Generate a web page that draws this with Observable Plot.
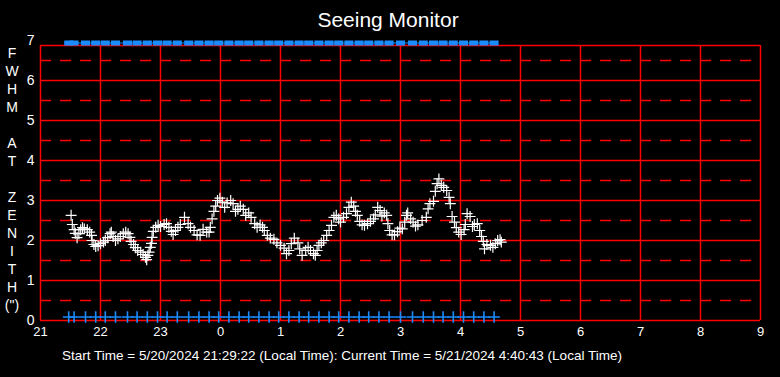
<!DOCTYPE html>
<html>
<head>
<meta charset="utf-8">
<script src="https://cdn.jsdelivr.net/npm/d3@7"></script>
<script src="https://cdn.jsdelivr.net/npm/@observablehq/plot@0.6"></script>
<style>
  html, body { margin: 0; padding: 0; background: #000; }
  #wrap { position: relative; width: 780px; height: 377px; background: #000; overflow: hidden;
          font-family: "Liberation Sans", Arial, sans-serif; color: #fff; }
  #title { position: absolute; left: 0; top: 8px; width: 776px; text-align: center;
           font-size: 21px; line-height: 24px; }
  #ylab { position: absolute; left: 1px; top: 44px; width: 22px; text-align: center;
          font-size: 14px; line-height: 18px; }
  #chart { position: absolute; left: 0; top: 0; }
  #foot { position: absolute; left: 0; top: 342px; }
</style>
</head>
<body>
<div id="wrap">
  <div id="chart"></div>
  <div id="title"></div>
  <div id="ylab"></div>
  <svg id="foot" width="780" height="30"></svg>
</div>
<script>
// ---- data ----
const titleText = "Seeing Monitor";
const yLabelLines = ["F","W","H","M","","A","T","","Z","E","N","I","T","H","(\")"];
const footerText = "Start Time = 5/20/2024 21:29:22 (Local Time): Current Time = 5/21/2024 4:40:43 (Local Time)";

// hours since midnight of 5/20 (values past 24 are the next day)
const seeingTime = [
  21.51,21.53,21.56,21.58,21.61,21.64,21.67,21.70,21.73,21.78,21.82,21.85,21.86,21.89,21.92,21.96,
  22.00,22.05,22.08,22.12,22.16,22.18,22.21,22.25,22.29,22.33,22.38,22.42,22.46,22.49,22.51,22.55,
  22.58,22.62,22.67,22.71,22.75,22.77,22.79,22.81,22.83,22.85,22.86,22.88,22.92,22.96,23.00,23.06,
  23.10,23.14,23.18,23.21,23.25,23.29,23.33,23.40,23.46,23.50,23.56,23.61,23.66,23.71,23.77,23.81,
  23.83,23.86,23.89,23.92,23.95,23.99,24.03,24.07,24.11,24.17,24.21,24.25,24.29,24.33,24.38,24.42,
  24.47,24.51,24.57,24.61,24.66,24.70,24.73,24.78,24.83,24.89,24.94,25.00,25.06,25.10,25.14,25.18,
  25.23,25.29,25.32,25.36,25.42,25.46,25.50,25.55,25.58,25.61,25.64,25.68,25.72,25.77,25.81,25.85,
  25.89,25.93,25.97,26.00,26.05,26.10,26.14,26.18,26.22,26.25,26.28,26.32,26.36,26.40,26.45,26.50,
  26.55,26.58,26.62,26.66,26.69,26.73,26.77,26.79,26.82,26.86,26.90,26.95,26.99,27.03,27.07,27.10,
  27.12,27.17,27.21,27.25,27.29,27.36,27.43,27.46,27.49,27.55,27.58,27.61,27.64,27.68,27.72,27.77,
  27.81,27.83,27.86,27.90,27.93,27.97,28.01,28.06,28.08,28.11,28.16,28.20,28.23,28.28,28.32,28.35,
  28.38,28.40,28.44,28.50,28.54,28.58,28.62,28.66,28.68
];
const seeingFwhm = [
  2.63,2.40,2.27,2.18,2.07,2.17,2.27,2.32,2.29,2.27,2.21,2.13,2.00,1.90,1.85,1.87,
  1.92,1.96,2.00,2.07,2.17,2.21,2.10,2.00,2.04,2.10,2.17,2.21,2.17,2.08,1.98,1.90,
  1.82,1.75,1.71,1.65,1.58,1.52,1.63,1.71,1.83,1.93,2.08,2.23,2.33,2.38,2.35,2.40,
  2.42,2.33,2.23,2.15,2.25,2.33,2.40,2.58,2.42,2.33,2.25,2.14,2.13,2.28,2.21,2.21,
  2.33,2.54,2.73,2.86,3.00,3.06,2.96,2.83,2.94,3.00,2.92,2.73,2.78,2.86,2.78,2.63,
  2.69,2.58,2.42,2.33,2.39,2.33,2.25,2.13,2.06,2.03,1.94,1.88,1.81,1.67,1.75,1.92,
  2.06,1.94,1.79,1.63,1.75,1.83,1.75,1.67,1.63,1.75,1.88,1.94,2.00,2.13,2.25,2.38,
  2.58,2.63,2.54,2.46,2.58,2.67,2.83,2.96,2.86,2.73,2.63,2.48,2.39,2.38,2.42,2.48,
  2.54,2.64,2.83,2.75,2.61,2.69,2.63,2.42,2.25,2.14,2.14,2.22,2.31,2.29,2.46,2.63,
  2.69,2.54,2.46,2.36,2.39,2.50,2.58,2.79,2.92,2.98,3.23,3.42,3.54,3.38,3.33,3.25,
  3.08,2.92,2.60,2.46,2.32,2.21,2.15,2.27,2.40,2.67,2.60,2.35,2.40,2.42,2.25,2.10,
  1.98,1.79,1.90,1.88,1.83,1.92,2.00,2.02,1.96
];

// times of the blue status markers (top row and bottom row)
const statusTime = [
  21.47,21.56,21.75,21.92,22.08,22.25,22.45,22.61,22.78,22.95,23.11,23.28,23.47,23.64,23.81,23.97,
  24.14,24.31,24.47,24.64,24.81,24.97,25.14,25.31,25.47,25.64,25.81,25.97,26.14,26.31,26.47,26.64,
  26.81,27.00,27.20,27.38,27.55,27.71,27.88,28.05,28.22,28.39,28.56
];
const statusTopLevel = 7;
const statusBottomLevel = 0;

const xTicks = [21,22,23,24,25,26,27,28,29,30,31,32,33];
const yTicks = [0,1,2,3,4,5,6,7];
const gridLevels = [0,1,2,3,4,5,6];
const dashLevels = [0.5,1.5,2.5,3.5,4.5,5.5,6.5];
const frameTop = 6.875;

// ---- build tables ----
const seeing = seeingTime.map((t, i) => ({t, fwhm: seeingFwhm[i]}));
const status = statusTime.map(t => ({t}));

const blue = "#1a8cff";
const red = "#ff0000";
const barSymbol = { draw(ctx) { ctx.rect(-4.5, -2.5, 9, 5); } };

const chart = Plot.plot({
  width: 780,
  height: 345,
  marginLeft: 40,
  marginRight: 20,
  marginTop: 40,
  marginBottom: 25,
  style: { background: "#000", color: "#fff", fontFamily: "'Liberation Sans', Arial, sans-serif", fontSize: "13px", overflow: "visible" },
  x: { domain: [21, 33] },
  y: { domain: [0, 7] },
  marks: [
    Plot.ruleY(dashLevels, { stroke: red, strokeWidth: 1.5, strokeDasharray: "11,9" }),
    Plot.ruleY(gridLevels, { stroke: red, strokeWidth: 1.5 }),
    Plot.ruleY([frameTop], { stroke: red, strokeWidth: 1.5 }),
    Plot.ruleX(xTicks, { y1: 0, y2: frameTop, stroke: red, strokeWidth: 1.5 }),
    Plot.axisX({ ticks: xTicks, tickFormat: d => String(d % 24), tickSize: 0, tickPadding: 6, label: null }),
    Plot.axisY({ ticks: yTicks, tickFormat: d => String(d), tickSize: 0, tickPadding: 6, label: null, fontSize: 14 }),
    Plot.line(status, { x: "t", y: () => statusTopLevel, stroke: blue, strokeWidth: 1, dy: 2.5 }),
    Plot.dot(status, { x: "t", y: () => statusTopLevel, symbol: barSymbol, fill: blue, stroke: "none", dy: 2.5 }),
    Plot.dot(status, { x: "t", y: () => statusBottomLevel, symbol: "plus", stroke: blue, strokeWidth: 1.6, r: 3.8, dy: -3.5 }),
    Plot.dot(seeing, { x: "t", y: "fwhm", symbol: "plus", stroke: "#fff", strokeWidth: 1.2, r: 3.6 })
  ]
});
document.getElementById("chart").appendChild(chart);

document.getElementById("title").textContent = titleText;
const yl = document.getElementById("ylab");
yLabelLines.forEach(s => {
  const d = document.createElement("div");
  d.textContent = s || "\u00a0";
  yl.appendChild(d);
});

const foot = d3.select("#foot");
foot.append("text")
  .attr("x", 62).attr("y", 18)
  .attr("fill", "#fff")
  .attr("font-family", "'Liberation Sans Narrow', 'Liberation Sans', Arial, sans-serif")
  .attr("font-size", 13)
  .attr("textLength", 560)
  .attr("lengthAdjust", "spacingAndGlyphs")
  .text(footerText);
</script>
</body>
</html>
